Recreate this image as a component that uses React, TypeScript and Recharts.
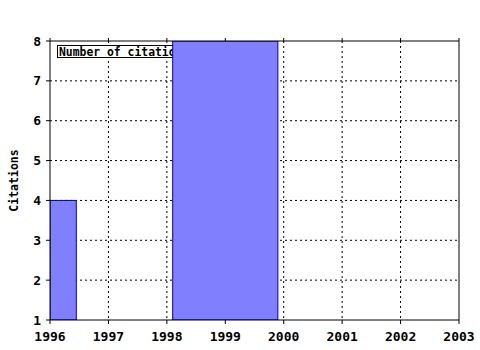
import React from "react";
import {
  ComposedChart,
  XAxis,
  YAxis,
  CartesianGrid,
  ReferenceArea,
  Customized,
} from "recharts";

// bars span [start, end] on the year axis, height = citations
const barStart = [1996, 1998.1];
const barEnd = [1996.45, 1999.9];
const citations = [4, 8];

const yearTicks = [1996, 1997, 1998, 1999, 2000, 2001, 2002, 2003];
const minorTicks = [
  1996, 1996.25, 1996.5, 1996.75, 1997, 1997.25, 1997.5, 1997.75,
  1998, 1998.25, 1998.5, 1998.75, 1999, 1999.25, 1999.5, 1999.75,
  2000, 2000.25, 2000.5, 2000.75, 2001, 2001.25, 2001.5, 2001.75,
  2002, 2002.25, 2002.5, 2002.75, 2003,
];
const citationTicks = [1, 2, 3, 4, 5, 6, 7, 8];
const legendLabel = "Number of citations";

const rows = barStart.map((s, i) => ({
  start: s,
  end: barEnd[i],
  citations: citations[i],
}));

const mono = "'DejaVu Sans Mono', monospace";

const Empty = () => <g />;

const LegendBox = () => (
  <g>
    <rect x={57.5} y={45.5} width={136} height={12} fill="#fff" stroke="#000" />
    <text
      x={59}
      y={55.5}
      fontFamily={mono}
      fontSize={11.4}
      fontWeight="bold"
      fill="#000"
    >
      {legendLabel}
    </text>
  </g>
);

const YearTick = (props: any) => {
  const { x, y, payload } = props;
  return (
    <g>
      <line x1={x} x2={x} y1={y} y2={y + 4} stroke="#000" />
      <text
        x={x}
        y={y + 21}
        textAnchor="middle"
        fontFamily={mono}
        fontSize={13}
        fontWeight="bold"
        fill="#000"
      >
        {payload.value}
      </text>
    </g>
  );
};

const YLabel = (props: any) => {
  const vb = props.viewBox || { x: 0, y: 41, width: 50, height: 279 };
  const cx = vb.x + 14;
  const cy = vb.y + vb.height / 2;
  return (
    <text
      x={cx}
      y={cy}
      transform={`rotate(-90 ${cx} ${cy})`}
      textAnchor="middle"
      dominantBaseline="central"
      fontFamily={mono}
      fontSize={11.5}
      fontWeight="bold"
      fill="#000"
    >
      Citations
    </text>
  );
};

export default function App() {
  return (
    <div style={{ position: "absolute", left: 0, top: 0, background: "#fff" }}>
      <ComposedChart
        width={480}
        height={350}
        data={rows}
        margin={{ top: 40.99, right: 20.99, bottom: 0, left: 0 }}
      >
        <XAxis
          xAxisId="minor"
          dataKey="start"
          type="number"
          domain={[1996, 2003]}
          ticks={minorTicks}
          allowDataOverflow
          height={0.01}
          tickSize={2}
          tick={Empty}
          axisLine={false}
          tickLine={{ stroke: "#000" }}
        />
        <XAxis
          dataKey="start"
          type="number"
          domain={[1996, 2003]}
          ticks={yearTicks}
          allowDataOverflow
          height={29.99}
          tickSize={0}
          tickMargin={0}
          tickLine={false}
          tick={YearTick}
          axisLine={{ stroke: "#000" }}
        />
        <XAxis
          xAxisId="top"
          orientation="top"
          dataKey="start"
          type="number"
          domain={[1996, 2003]}
          ticks={minorTicks}
          allowDataOverflow
          height={0.01}
          tickSize={3}
          tick={Empty}
          axisLine={{ stroke: "#000" }}
          tickLine={{ stroke: "#000" }}
        />
        <YAxis
          type="number"
          domain={[1, 8]}
          ticks={citationTicks}
          allowDataOverflow
          width={50}
          tickSize={4}
          tickMargin={5}
          axisLine={{ stroke: "#000" }}
          tickLine={{ stroke: "#000" }}
          tick={{
            fill: "#000",
            fontSize: 13,
            fontWeight: "bold",
            fontFamily: mono,
          }}
          label={<YLabel />}
        />
        <YAxis
          yAxisId="right"
          orientation="right"
          type="number"
          domain={[1, 8]}
          width={0.01}
          tick={Empty}
          tickLine={false}
          axisLine={{ stroke: "#000" }}
        />
        <CartesianGrid
          stroke="#000"
          strokeDasharray="2 3"
          horizontalValues={[2, 3, 4, 5, 6, 7]}
          verticalValues={[1997, 1998, 1999, 2000, 2001, 2002]}
        />
        <Customized component={LegendBox} />
        {rows.map((r, i) => (
          <ReferenceArea
            key={i}
            x1={r.start}
            x2={r.end}
            y1={1}
            y2={r.citations}
            fill="#8080ff"
            fillOpacity={1}
            stroke="#0000a8"
            strokeOpacity={1}
            ifOverflow="hidden"
          />
        ))}
      </ComposedChart>
    </div>
  );
}
